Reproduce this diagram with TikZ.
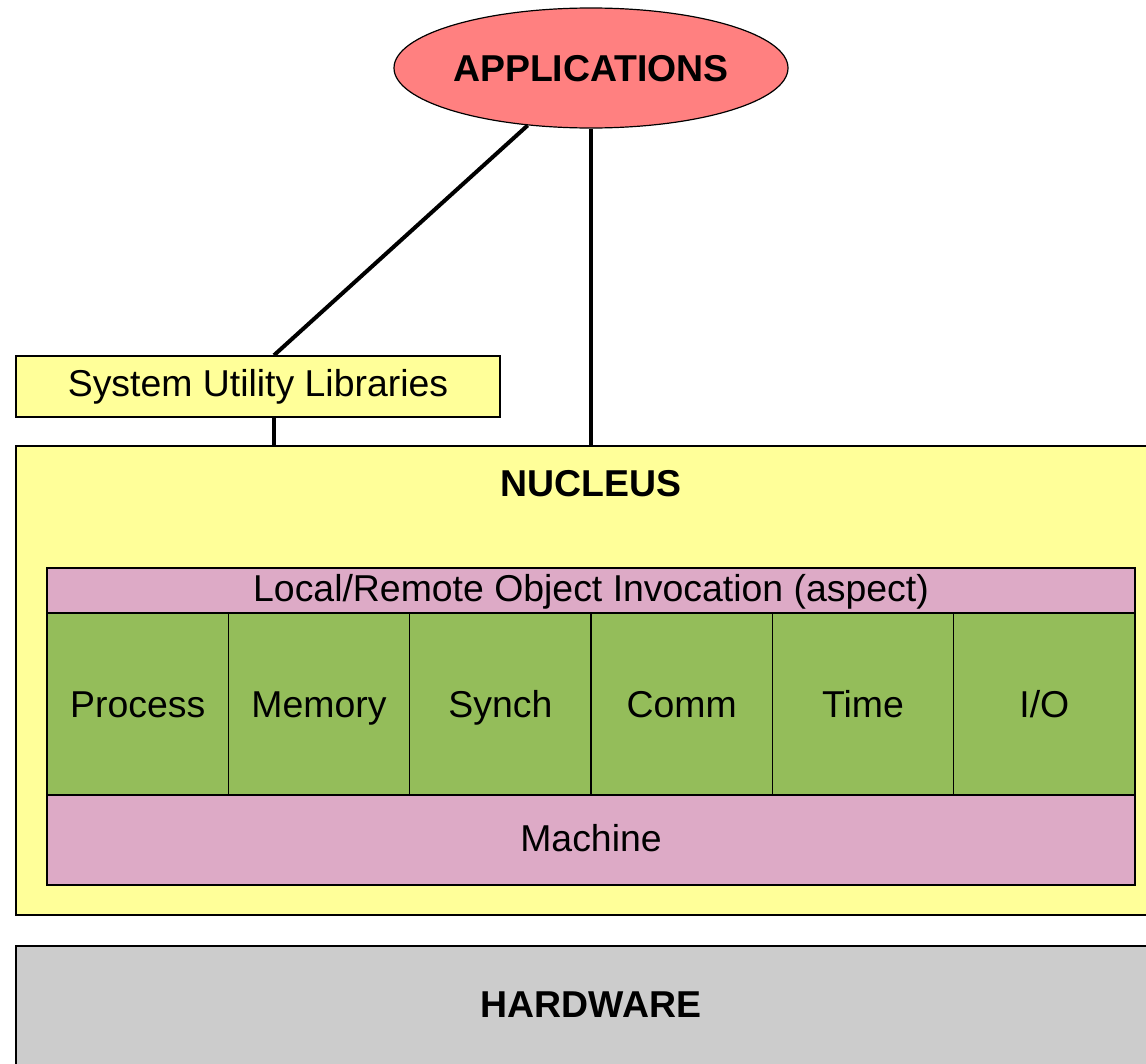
\documentclass[tikz,border=0pt]{standalone}
\usepackage{fontspec}
\setmainfont{Liberation Sans}
\usetikzlibrary{shapes.geometric}
\definecolor{appred}{RGB}{255,128,128}
\definecolor{yel}{RGB}{255,255,153}
\definecolor{pinkbox}{RGB}{221,170,198}
\definecolor{greenbox}{RGB}{148,189,90}
\definecolor{greybox}{RGB}{204,204,204}
\begin{document}
\begin{tikzpicture}[x=1pt,y=-1pt,
  txt/.style={font=\fontsize{37.4}{44}\selectfont,text height=26.8pt,text depth=0pt},
  btxt/.style={font=\fontsize{37.4}{44}\selectfont\bfseries,anchor=base,inner sep=0pt},
  box/.style={draw=black,line width=1.5pt,rectangle,inner sep=0pt,txt},
  cell/.style={box,fill=greenbox,minimum width=181.33pt,minimum height=182pt},
  conn/.style={draw=black,line width=4pt}]
\useasboundingbox (0,0) rectangle (1146,1063);
\clip (0,0) rectangle (1146,1063);
\fill[white] (0,0) rectangle (1146,1063);
% applications
\node[ellipse,draw=black,line width=1.2pt,fill=appred,minimum width=394pt,minimum height=120pt,inner sep=0pt,txt,font=\fontsize{37.4}{44}\selectfont\bfseries] (app) at (591,68) {APPLICATIONS};
% system utility libraries
\node[box,fill=yel,minimum width=484pt,minimum height=61pt,text depth=6.4pt] (sul) at (258,386.5) {System Utility Libraries};
% nucleus
\node[box,fill=yel,minimum width=1150pt,minimum height=469pt] (nuc) at (591,680.5) {};
\node[btxt] (nuct) at (591,496.7) {NUCLEUS};
\node[box,fill=pinkbox,minimum width=1088pt,minimum height=45pt,text depth=4.4pt] (lroi) at (591,590.5) {Local/Remote Object Invocation (aspect)};
\node[cell] (proc) at (137.67,704) {Process};
\node[cell] (mem) at (319,704) {Memory};
\node[cell] (syn) at (500.33,704) {Synch};
\node[cell] (comm) at (681.67,704) {Comm};
\node[cell] (time) at (863,704) {Time};
\node[cell] (io) at (1044.33,704) {I/O};
\node[box,fill=pinkbox,minimum width=1088pt,minimum height=90pt,text depth=3.4pt] (mach) at (591,840) {Machine};
% hardware
\node[box,fill=greybox,minimum width=1150pt,minimum height=134pt] (hw) at (591,1013) {};
\node[btxt] (hwt) at (591,1017.7) {HARDWARE};
% connectors
\coordinate (s1) at (274,0);
\draw[conn] (app) -- (sul.north -| s1);
\draw[conn] (app) -- (app |- nuc.north);
\draw[conn] (sul.south -| s1) -- (nuc.north -| s1);
\end{tikzpicture}
\end{document}
